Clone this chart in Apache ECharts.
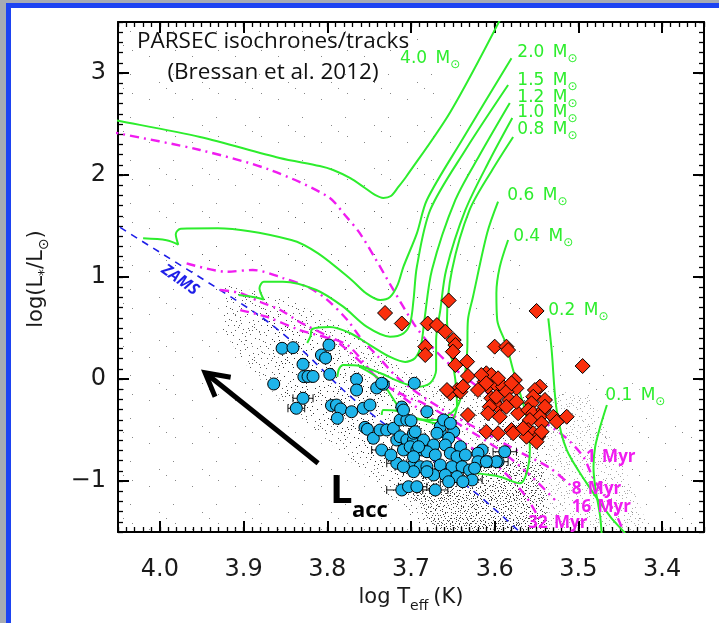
<!DOCTYPE html>
<html><head><meta charset="utf-8">
<script src="https://cdn.jsdelivr.net/npm/echarts@6/dist/echarts.min.js"></script>
<style>
html,body{margin:0;padding:0;background:#fff;}
#chart{width:719px;height:623px;}
</style></head><body><div id="chart"></div>
<script>
// ---- axis ranges and ticks ----
const xRange = [3.35, 4.05];
const yRange = [-1.5, 3.5];
const xMajorTicks = [3.4, 3.5, 3.6, 3.7, 3.8, 3.9, 4.0];
const yMajorTicks = [-1, 0, 1, 2, 3];

// ---- PARSEC evolutionary tracks [logTeff, logL] ----
const track40 = [[4.060,2.545],[4.050,2.532],[3.952,2.373],[3.857,2.167],[3.809,2.088],[3.793,2.049],[3.773,1.971],[3.755,1.873],[3.743,1.804],[3.733,1.775],[3.724,1.794],[3.716,1.873],[3.706,1.980],[3.653,2.618],[3.590,3.580]];
const track20 = [[4.020,1.379],[3.992,1.360],[3.978,1.318],[3.981,1.420],[3.975,1.474],[3.931,1.477],[3.843,1.363],[3.811,1.232],[3.771,0.971],[3.754,0.843],[3.737,0.775],[3.725,0.804],[3.716,0.922],[3.709,1.101],[3.693,1.428],[3.681,1.755],[3.639,2.343],[3.580,3.144]];
const track15 = [[3.906,0.824],[3.885,0.800],[3.876,0.780],[3.881,0.890],[3.876,0.954],[3.853,0.954],[3.813,0.873],[3.781,0.709],[3.753,0.513],[3.725,0.415],[3.709,0.448],[3.701,0.546],[3.697,0.775],[3.693,1.101],[3.677,1.657],[3.635,2.245],[3.584,2.882]];
const track12 = [[3.824,0.353],[3.820,0.420],[3.818,0.490],[3.797,0.510],[3.773,0.451],[3.749,0.333],[3.725,0.216],[3.707,0.167],[3.695,0.206],[3.688,0.333],[3.684,0.578],[3.675,1.069],[3.647,1.755],[3.618,2.196],[3.582,2.706]];
const track10 = [[3.788,0.020],[3.786,0.098],[3.781,0.137],[3.761,0.127],[3.737,0.059],[3.713,-0.029],[3.692,-0.078],[3.677,-0.039],[3.670,0.088],[3.670,0.382],[3.665,0.676],[3.658,1.069],[3.635,1.657],[3.606,2.147],[3.579,2.559]];
const track08 = [[3.735,-0.353],[3.733,-0.304],[3.717,-0.314],[3.701,-0.363],[3.686,-0.402],[3.665,-0.441],[3.651,-0.402],[3.645,-0.255],[3.647,-0.010],[3.653,0.284],[3.657,0.578],[3.651,1.069],[3.630,1.657],[3.603,2.049],[3.578,2.373]];
const track06 = [[3.761,0.118],[3.737,-0.010],[3.701,-0.382],[3.669,-0.402],[3.645,-0.275],[3.638,-0.078],[3.633,0.255],[3.632,0.578],[3.626,0.804],[3.609,1.431],[3.596,1.738]];
const track04 = [[3.584,1.363],[3.594,1.098],[3.598,0.843],[3.597,0.578],[3.586,0.333],[3.578,0.088],[3.562,-0.373],[3.558,-0.696],[3.562,-0.925],[3.570,-1.023],[3.594,-0.958],[3.622,-0.925]];
const track02 = [[3.536,0.595],[3.532,0.284],[3.526,-0.304],[3.514,-0.696],[3.490,-1.023],[3.462,-1.350],[3.446,-1.497],[3.440,-1.560]];
const track01 = [[3.466,-0.255],[3.474,-0.468],[3.480,-0.664],[3.482,-0.860],[3.480,-1.056],[3.474,-1.350],[3.472,-1.560]];

// ---- isochrones ----
const iso1 = [[4.060,2.425],[4.050,2.409],[3.952,2.245],[3.868,2.049],[3.799,1.787],[3.779,1.608],[3.761,1.428],[3.743,1.186],[3.721,0.873],[3.697,0.546],[3.677,0.333],[3.653,0.137],[3.618,-0.088],[3.582,-0.255],[3.546,-0.402],[3.516,-0.569],[3.494,-0.765],[3.483,-0.961],[3.471,-1.118],[3.456,-1.314],[3.448,-1.461],[3.445,-1.540]];
const iso8 = [[3.968,1.134],[3.920,1.052],[3.889,1.069],[3.853,0.990],[3.821,0.892],[3.800,0.775],[3.776,0.578],[3.761,0.412],[3.739,0.216],[3.713,-0.010],[3.665,-0.284],[3.618,-0.500],[3.570,-0.716],[3.534,-0.873],[3.510,-1.039]];
const iso16 = [[3.928,0.873],[3.904,0.843],[3.880,0.755],[3.856,0.676],[3.833,0.559],[3.797,0.412],[3.773,0.314],[3.742,0.020],[3.725,-0.078],[3.705,-0.176],[3.686,-0.235],[3.641,-0.451],[3.594,-0.696],[3.558,-0.941],[3.528,-1.186]];
const iso32 = [[3.904,0.676],[3.872,0.608],[3.833,0.480],[3.793,0.382],[3.776,0.284],[3.737,-0.010],[3.689,-0.304],[3.641,-0.598],[3.594,-0.873],[3.564,-1.137],[3.546,-1.382]];

// ---- zero-age main sequence ----
const zams = [[4.060,1.560],[4.050,1.500],[3.884,0.637],[3.833,0.304],[3.781,-0.108],[3.741,-0.382],[3.624,-1.108],[3.570,-1.500]];

// ---- stars with accretion measurements (circles) ----
const accretors = [[3.854,0.301],[3.841,0.307],[3.798,0.333],[3.807,0.235],[3.802,0.206],[3.829,0.144],[3.828,0.023],[3.823,0.025],[3.817,0.025],[3.797,0.046],[3.864,-0.049],[3.765,-0.003],[3.765,-0.108],[3.741,-0.088],[3.733,-0.052],[3.696,-0.042],[3.829,-0.189],[3.837,-0.287],[3.795,-0.260],[3.789,-0.255],[3.784,-0.294],[3.788,-0.385],[3.771,-0.321],[3.757,-0.287],[3.749,-0.255],[3.711,-0.275],[3.755,-0.474],[3.752,-0.493],[3.745,-0.581],[3.737,-0.500],[3.735,-0.696],[3.729,-0.500],[3.721,-0.483],[3.713,-0.402],[3.705,-0.402],[3.700,-0.409],[3.717,-0.598],[3.713,-0.566],[3.705,-0.598],[3.709,-0.696],[3.697,-0.598],[3.701,-0.664],[3.693,-0.696],[3.717,-0.826],[3.699,-0.860],[3.689,-0.860],[3.697,-0.909],[3.711,-1.088],[3.703,-1.056],[3.693,-1.056],[3.687,-0.696],[3.685,-0.598],[3.665,-0.517],[3.649,-0.517],[3.655,-0.581],[3.673,-0.647],[3.659,-0.647],[3.641,-0.664],[3.615,-0.696],[3.620,-0.728],[3.588,-0.713],[3.681,-0.713],[3.671,-0.745],[3.653,-0.728],[3.645,-0.762],[3.635,-0.745],[3.608,-0.811],[3.596,-0.811],[3.620,-0.811],[3.665,-0.843],[3.651,-0.860],[3.639,-0.860],[3.630,-0.892],[3.681,-0.860],[3.673,-0.941],[3.659,-0.941],[3.645,-0.958],[3.627,-0.990],[3.671,-1.088],[3.655,-1.007],[3.638,-1.007],[3.624,-0.875],[3.735,-0.042],[3.681,-0.321],[3.665,-0.468],[3.661,-0.402],[3.653,-0.434],[3.669,-0.532],[3.697,-0.532],[3.691,-0.664],[3.681,-0.909],[3.709,-0.860],[3.697,-0.762],[3.598,-0.811],[3.610,-0.811],[3.724,-0.745],[3.709,-0.304],[3.695,-0.517]];
const accretorErrors = [[3.829,-0.189,0.012],[3.837,-0.287,0.010],[3.717,-0.826,0.012],[3.697,-0.909,0.012],[3.711,-1.088,0.018],[3.703,-1.056,0.012],[3.693,-1.056,0.012],[3.671,-1.088,0.015],[3.588,-0.713,0.014],[3.596,-0.811,0.012],[3.735,-0.696,0.012],[3.673,-0.941,0.012],[3.655,-1.007,0.010],[3.681,-0.909,0.012],[3.627,-0.990,0.012],[3.709,-0.860,0.010]];

// ---- stars without accretion (diamonds) ----
const nonAccretors = [[3.731,0.647],[3.711,0.544],[3.680,0.544],[3.669,0.529],[3.659,0.464],[3.655,0.770],[3.550,0.667],[3.683,0.317],[3.683,0.235],[3.649,0.382],[3.647,0.333],[3.650,0.268],[3.600,0.317],[3.586,0.317],[3.584,0.284],[3.495,0.127],[3.647,0.137],[3.633,0.170],[3.632,0.029],[3.610,0.056],[3.604,0.039],[3.612,-0.026],[3.608,-0.075],[3.620,-0.108],[3.645,-0.108],[3.653,-0.140],[3.641,-0.125],[3.598,-0.059],[3.590,-0.075],[3.576,-0.010],[3.574,-0.091],[3.586,-0.125],[3.582,-0.206],[3.604,-0.189],[3.600,-0.223],[3.596,-0.272],[3.606,-0.272],[3.608,-0.336],[3.594,-0.370],[3.572,-0.336],[3.632,-0.353],[3.610,-0.517],[3.596,-0.532],[3.580,-0.500],[3.578,-0.532],[3.546,-0.075],[3.552,-0.108],[3.554,-0.174],[3.556,-0.238],[3.560,-0.304],[3.554,-0.336],[3.542,-0.304],[3.546,-0.370],[3.558,-0.402],[3.544,-0.434],[3.530,-0.370],[3.514,-0.370],[3.526,-0.419],[3.560,-0.500],[3.554,-0.532],[3.548,-0.566],[3.550,-0.615],[3.562,-0.566],[3.566,-0.483],[3.544,-0.517],[3.540,-0.206],[3.540,-0.272],[3.598,-0.174],[3.586,-0.272],[3.574,-0.223],[3.580,-0.042],[3.596,0.007],[3.657,-0.108],[3.638,-0.075],[3.616,0.039],[3.610,-0.042]];

// ---- text labels on the tracks and isochrones ----
const massLabels = [[3.713,3.147,'4.0'],[3.573,3.206,'2.0'],[3.573,2.931,'1.5'],[3.573,2.765,'1.2'],[3.573,2.618,'1.0'],[3.573,2.451,'0.8'],[3.585,1.804,'0.6'],[3.578,1.402,'0.4'],[3.536,0.676,'0.2'],[3.468,-0.157,'0.1']];
const ageLabels = [[3.491,-0.745,'1'],[3.508,-1.059,'8'],[3.508,-1.235,'16'],[3.560,-1.392,'32']];

// ---- field population, drawn as stippled areas ----
const fieldAreas = [
  {kind:'sparse', pts:[[4.05,3.5],[3.70,3.5],[3.62,2.2],[3.55,0.8],[3.40,-0.3],[3.35,-0.5],[3.35,-1.5],[4.05,-1.5]]},
  {kind:'sparse', pts:[[3.960,1.300],[3.760,1.900],[3.700,1.200],[3.650,0.400],[3.700,0.000],[3.850,0.400],[3.960,0.900]]},
  {kind:'mid', pts:[[3.922,0.922],[3.880,0.853],[3.833,0.725],[3.773,0.480],[3.713,0.137],[3.653,-0.108],[3.594,-0.206],[3.540,-0.108],[3.534,-1.5],[3.680,-1.5],[3.740,-1.050],[3.800,-0.600],[3.850,-0.250],[3.895,0.120],[3.925,0.480]]},
  {kind:'mid', pts:[[3.880,0.700],[3.800,0.300],[3.720,-0.250],[3.640,-0.650],[3.560,-0.800],[3.540,-1.5],[3.640,-1.5],[3.700,-1.1],[3.780,-0.600],[3.850,-0.150]]},
  {kind:'dense', pts:[[3.680,-0.780],[3.618,-0.843],[3.545,-0.800],[3.534,-1.5],[3.667,-1.5],[3.700,-1.150]]},
  {kind:'light', pts:[[3.540,-0.108],[3.486,-0.157],[3.444,-0.892],[3.414,-1.5],[3.534,-1.5]]}
];

// Lacc arrow: tail then head
const accArrow = [[3.811,-0.826],[3.946,0.062]];

const GREEN = '#2ded2d', MAGENTA = '#f01cf0', ZBLUE = '#1f1fe8';
const CYAN = '#1eb4ea', RED = '#fa2f0c';
const FONT = '"DejaVu Sans", sans-serif';
const SLIDE_FONT = '"Open Sans", "Noto Sans", sans-serif';

// speckle tiles for the field population
const speckOffsets = [[3,7],[35,2],[19,13],[28,37],[1,29],[12,25],[26,1],[36,20],[4,35],[21,38],[8,18],[39,14],[22,31],[14,4],[17,24],[30,10],[10,11],[5,22],[33,30],[0,3],[38,27],[13,32],[25,16],[15,39],[6,1],[32,22],[27,28],[9,37],[18,8],[37,35],[2,15],[24,6],[11,28],[31,39],[16,17],[29,33],[7,30],[34,12],[20,21],[23,0],[13,14],[36,5],[3,20],[26,36],[19,3],[10,34],[31,26],[0,38],[22,11],[15,29],[39,32],[8,6],[28,18],[5,12],[34,38],[17,35],[25,24],[12,2],[38,9],[2,25]];
function speckleTile(size, count, color) {
  const c = document.createElement('canvas');
  c.width = size; c.height = size;
  const g = c.getContext('2d');
  g.fillStyle = color;
  for (let i = 0; i < count; i++) {
    const p = speckOffsets[i % speckOffsets.length];
    g.fillRect(Math.floor(p[0] * size / 40), Math.floor(p[1] * size / 40), 1, 1);
  }
  return c;
}
const tiles = {
  sparse: speckleTile(43, 5, 'rgba(70,70,70,0.65)'),
  mid: speckleTile(33, 46, 'rgba(35,35,35,0.75)'),
  dense: speckleTile(25, 60, 'rgba(25,25,25,0.8)'),
  light: speckleTile(29, 48, 'rgba(125,125,125,0.65)')
};

// horizontal text runs with subscripts, laid out with measured widths
const measureCtx = document.createElement('canvas').getContext('2d');
function textRun(parts, color, x0, y0) {
  let x = x0; const children = [];
  parts.forEach(p => {
    const font = (p.weight || 'normal') + ' ' + p.size + 'px ' + (p.family || FONT);
    measureCtx.font = font;
    children.push({type:'text', x: x, y: y0 + (p.dy || 0), style:{text:p.t, font:font, fill:color, align:'left', verticalAlign:'bottom'}});
    x += measureCtx.measureText(p.t).width + (p.gap || 0);
  });
  return {children: children, width: x - x0};
}

function lineSeries(name, data, color, width, type, z) {
  return {type:'line', name:name, data:data, symbol:'none', smooth:0.3, clip:true, z:z,
    lineStyle:{color:color, width:width, type:type}, silent:true, animation:false};
}

const chart = echarts.init(document.getElementById('chart'), null, {renderer:'canvas'});

function axisPair(dim, pos, interval, majors, withLabels) {
  const base = {type:'value', min: dim==='x'?xRange[0]:yRange[0], max: dim==='x'?xRange[1]:yRange[1], interval:interval,
    inverse: dim==='x', position:pos, splitLine:{show:false}, offset:0};
  const minor = Object.assign({}, base, {
    axisLine:{show:true, onZero:false, lineStyle:{color:'#000', width:2}},
    axisTick:{show:true, inside:true, length:5, lineStyle:{color:'#000', width:1.3}},
    minorTick:{show:true, splitNumber:5, length:5, lineStyle:{color:'#000', width:1.3}},
    axisLabel:{show:false}
  });
  const major = Object.assign({}, base, {
    axisLine:{show:false, onZero:false},
    axisTick:{show:true, inside:true, length:11, customValues:majors, lineStyle:{color:'#000', width:2}},
    minorTick:{show:false},
    axisLabel:{show:withLabels, customValues:majors, fontFamily:FONT, fontSize:24, color:'#1a1a1a',
      margin: dim==='x'?26:12,
      formatter: v => dim==='x' ? Number(v).toFixed(1) : (v < 0 ? '\u2212' + Math.abs(v) : String(v))}
  });
  return [minor, major];
}

const xAxes = axisPair('x','bottom',0.05,xMajorTicks,true).concat(axisPair('x','top',0.05,xMajorTicks,false));
const yAxes = axisPair('y','left',0.5,yMajorTicks,true).concat(axisPair('y','right',0.5,yMajorTicks,false));

const option = {
  animation:false,
  backgroundColor:'#fff',
  grid:{left:118, right:15, top:22, bottom:91, containLabel:false, outerBoundsMode:'none'},
  xAxis: xAxes,
  yAxis: yAxes,
  series: [
    {type:'custom', name:'field', silent:true, z:1, clip:true,
      data: fieldAreas.map((a, i) => [a.pts[0][0], a.pts[0][1], i]),
      renderItem: (params, api) => {
        const a = fieldAreas[params.dataIndex];
        return {type:'polygon', shape:{points: a.pts.map(p => api.coord(p))},
          style:{fill:{image: tiles[a.kind], repeat:'repeat'}, stroke:null}};
      }},
    lineSeries('ZAMS', zams, ZBLUE, 1.6, [7,6], 2),
    lineSeries('1 Myr', iso1, MAGENTA, 2.4, [9,5,2,5], 3),
    lineSeries('8 Myr', iso8, MAGENTA, 2.4, [9,5,2,5], 3),
    lineSeries('16 Myr', iso16, MAGENTA, 2.4, [9,5,2,5], 3),
    lineSeries('32 Myr', iso32, MAGENTA, 2.4, [9,5,2,5], 3),
    lineSeries('4.0', track40, GREEN, 2, 'solid', 4),
    lineSeries('2.0', track20, GREEN, 2, 'solid', 4),
    lineSeries('1.5', track15, GREEN, 2, 'solid', 4),
    lineSeries('1.2', track12, GREEN, 2, 'solid', 4),
    lineSeries('1.0', track10, GREEN, 2, 'solid', 4),
    lineSeries('0.8', track08, GREEN, 2, 'solid', 4),
    lineSeries('0.6', track06, GREEN, 2, 'solid', 4),
    lineSeries('0.4', track04, GREEN, 2, 'solid', 4),
    lineSeries('0.2', track02, GREEN, 2, 'solid', 4),
    lineSeries('0.1', track01, GREEN, 2, 'solid', 4),
    {type:'custom', name:'errors', silent:true, z:5, data: accretorErrors,
      renderItem: (params, api) => {
        const x = api.value(0), y = api.value(1), e = api.value(2);
        const a = api.coord([x + e, y]), b = api.coord([x - e, y]);
        const st = {stroke:'#111', lineWidth:1};
        return {type:'group', children:[
          {type:'line', shape:{x1:a[0], y1:a[1], x2:b[0], y2:b[1]}, style:st},
          {type:'line', shape:{x1:a[0], y1:a[1]-4, x2:a[0], y2:a[1]+4}, style:st},
          {type:'line', shape:{x1:b[0], y1:b[1]-4, x2:b[0], y2:b[1]+4}, style:st}
        ]};
      }},
    {type:'scatter', name:'accretors', data: accretors, symbol:'circle', symbolSize:12, z:6, silent:true,
      itemStyle:{color:CYAN, borderColor:'#000', borderWidth:1, opacity:1}},
    {type:'scatter', name:'non-accretors', data: nonAccretors, symbol:'diamond', symbolSize:15, z:7, silent:true,
      itemStyle:{color:RED, borderColor:'#000', borderWidth:1, opacity:1}},
    {type:'custom', name:'mass labels', silent:true, z:8, data: massLabels,
      renderItem: (params, api) => {
        const p = api.coord([api.value(0), api.value(1)]);
        const run = textRun([
          {t: massLabels[params.dataIndex][2] + ' ', size:17, gap:3},
          {t:'M', size:17},
          {t:'\u2299', size:12, dy:4}
        ], GREEN, p[0], p[1] + 9);
        return {type:'group', children: run.children};
      }},
    {type:'custom', name:'age labels', silent:true, z:8, data: ageLabels,
      renderItem: (params, api) => {
        const p = api.coord([api.value(0), api.value(1)]);
        const run = textRun([
          {t: ageLabels[params.dataIndex][2] + ' ', size:17, weight:'bold', family:SLIDE_FONT, gap:2},
          {t:'Myr', size:17, weight:'bold', family:SLIDE_FONT}
        ], MAGENTA, p[0], p[1] + 11);
        return {type:'group', children: run.children};
      }},
    {type:'custom', name:'Lacc arrow', silent:true, z:8, data:[[accArrow[0][0], accArrow[0][1], accArrow[1][0], accArrow[1][1]]],
      renderItem: (params, api) => {
        const t = api.coord([api.value(0), api.value(1)]);
        const h = api.coord([api.value(2), api.value(3)]);
        const ang = Math.atan2(t[1]-h[1], t[0]-h[0]);
        const L = 26, sp = 0.5;
        const a1 = [h[0] + L*Math.cos(ang+sp), h[1] + L*Math.sin(ang+sp)];
        const a2 = [h[0] + L*Math.cos(ang-sp), h[1] + L*Math.sin(ang-sp)];
        return {type:'group', children:[
          {type:'line', shape:{x1:t[0], y1:t[1], x2:h[0]+3*Math.cos(ang), y2:h[1]+3*Math.sin(ang)}, style:{stroke:'#000', lineWidth:5}},
          {type:'polyline', shape:{points:[a1, h, a2]}, style:{stroke:'#000', lineWidth:5, fill:null, lineJoin:'miter'}}
        ]};
      }}
  ]
};
chart.setOption(option);

// frame, titles and annotations
const graphics = [
  {type:'rect', shape:{x:0, y:0, width:6, height:623}, style:{fill:'#a7abb3'}},
  {type:'rect', shape:{x:0, y:0, width:719, height:3}, style:{fill:'#a7abb3'}},
  {type:'rect', shape:{x:6, y:3, width:5, height:620}, style:{fill:'#1d43f2'}},
  {type:'rect', shape:{x:6, y:3, width:713, height:5}, style:{fill:'#1d43f2'}},
  {type:'text', x:273, y:42, style:{text:'PARSEC isochrones/tracks', font:'22.5px ' + SLIDE_FONT, fill:'#111', align:'center', verticalAlign:'middle'}},
  {type:'text', x:273, y:73, style:{text:'(Bressan et al. 2012)', font:'22.5px ' + SLIDE_FONT, fill:'#111', align:'center', verticalAlign:'middle'}},
  {type:'text', x:180, y:280, rotation:-0.62, style:{text:'ZAMS', font:'italic bold 16px ' + SLIDE_FONT, fill:ZBLUE, align:'center', verticalAlign:'middle'}},
  {type:'text', x:330, y:512, style:{text:'L', font:'bold 40px ' + SLIDE_FONT, fill:'#000', align:'left', verticalAlign:'bottom'}},
  {type:'text', x:352, y:522, style:{text:'acc', font:'bold 22px ' + SLIDE_FONT, fill:'#000', align:'left', verticalAlign:'bottom'}}
];
// x-axis title
(function () {
  const parts = [{t:'log T', size:21, gap:0}, {t:'eff', size:14, dy:5, gap:5}, {t:'(K)', size:21}];
  const probe = textRun(parts, '#1a1a1a', 0, 0);
  const run = textRun(parts, '#1a1a1a', 411 - probe.width / 2, 608);
  run.children.forEach(c => graphics.push(c));
})();
// y-axis title, rotated
(function () {
  const parts = [{t:'log(L', size:21}, {t:'*', size:14, dy:4}, {t:'/L', size:21}, {t:'\u2299', size:14, dy:4}, {t:')', size:21}];
  const probe = textRun(parts, '#1a1a1a', 0, 0);
  const run = textRun(parts, '#1a1a1a', -probe.width / 2, 0);
  graphics.push({type:'group', x:47, y:279, rotation:Math.PI / 2, children: run.children});
})();
chart.setOption({graphic: graphics});
</script></body></html>
